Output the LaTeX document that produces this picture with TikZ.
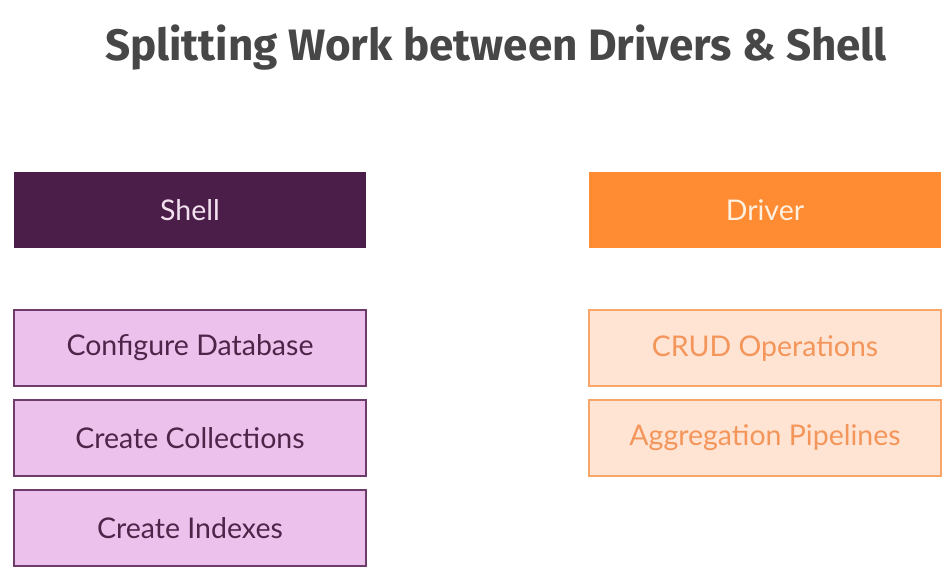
\documentclass[tikz,border=0pt]{standalone}
\usepackage{fontspec}
\setmainfont{Lato}
\newfontfamily\titlefont{Fira Sans}
\definecolor{shellbg}{HTML}{4A1E48}
\definecolor{shelltxt}{HTML}{F3E1F0}
\definecolor{lpfill}{HTML}{ECC1EC}
\definecolor{lpdraw}{HTML}{6E3C6A}
\definecolor{lptxt}{HTML}{4E2449}
\definecolor{drvbg}{HTML}{FF8C33}
\definecolor{drvtxt}{HTML}{FFF0E0}
\definecolor{lofill}{HTML}{FFE4D4}
\definecolor{lodraw}{HTML}{F8A56A}
\definecolor{lotxt}{HTML}{F4955A}
\definecolor{titlecol}{HTML}{474747}
\tikzset{
  box/.style={minimum width=352pt, minimum height=76pt, inner sep=0pt, font=\fontsize{28.5}{32}\selectfont},
  shellhead/.style={box, fill=shellbg, text=shelltxt},
  drvhead/.style={box, fill=drvbg, text=drvtxt},
  shellitem/.style={box, fill=lpfill, draw=lpdraw, line width=1.2pt, text=lptxt},
  drvitem/.style={box, fill=lofill, draw=lodraw, line width=1.2pt, text=lotxt},
}
\begin{document}
\begin{tikzpicture}[x=1pt,y=-1pt]
\useasboundingbox (0,0) rectangle (952,585);
\fill[white] (0,0) rectangle (952,585);
\node[font=\titlefont\bfseries\fontsize{44}{50}\selectfont, text=titlecol] (title) at (496,48) {Splitting Work between Drivers \& Shell};
\node[shellhead] (shell) at (190,210) {Shell};
\node[drvhead] (driver) at (765,210) {Driver};
\node[shellitem] (config) at (190,348) {Configure Database};
\node[shellitem] (coll) at (190,438) {Create Collections};
\node[shellitem] (idx) at (190,528) {Create Indexes};
\node[drvitem] (crud) at (765,348) {CRUD Operations};
\node[drvitem] (agg) at (765,438) {Aggregation Pipelines};
\end{tikzpicture}
\end{document}
